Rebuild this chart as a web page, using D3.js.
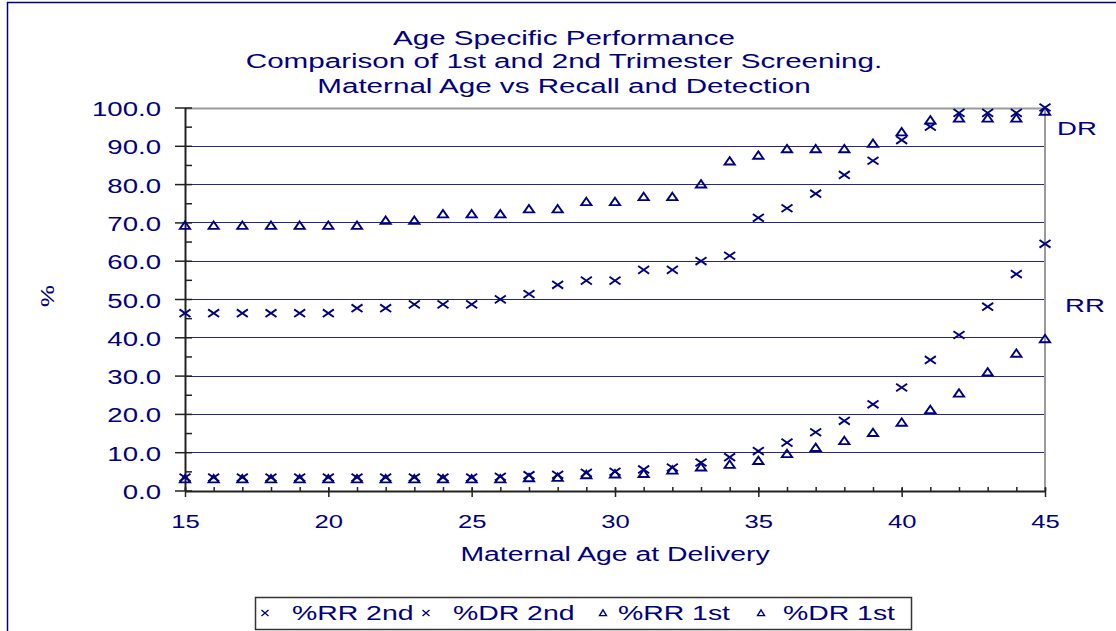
<!DOCTYPE html>
<html><head><meta charset="utf-8">
<script src="https://cdn.jsdelivr.net/npm/d3@7"></script>
<style>
html,body{margin:0;padding:0;background:#fff;}
svg{display:block;font-family:"Liberation Sans",Arial,sans-serif;}
</style></head>
<body>
<svg id="chart" width="1116" height="631"></svg>
<script>
const titleLines = ["Age Specific Performance","Comparison of 1st and 2nd Trimester Screening.","Maternal Age vs Recall and Detection"];
const xTitle = "Maternal Age at Delivery";
const yTitle = "%";
const ages = [15,16,17,18,19,20,21,22,23,24,25,26,27,28,29,30,31,32,33,34,35,36,37,38,39,40,41,42,43,44,45];
const rr2 = [3.4,3.4,3.4,3.4,3.4,3.4,3.4,3.4,3.4,3.4,3.4,3.6,4.0,4.1,4.6,4.9,5.5,6.0,7.3,8.7,10.3,12.5,15.2,18.2,22.5,26.9,34.1,40.6,48.0,56.5,64.4];
const dr2 = [46.3,46.3,46.3,46.3,46.3,46.3,47.6,47.6,48.6,48.6,48.6,49.9,51.3,53.7,54.8,54.8,57.6,57.6,59.9,61.3,71.2,73.7,77.5,82.4,86.1,91.5,95.0,98.6,98.6,98.6,100.0];
const rr1 = [3.0,3.0,3.0,3.0,3.0,3.0,3.0,3.0,3.0,3.0,3.0,3.0,3.3,3.4,4.1,4.3,4.4,5.3,6.1,6.8,7.8,9.6,11.2,13.0,15.1,17.8,21.1,25.4,30.9,35.8,39.6];
const dr1 = [69.2,69.2,69.2,69.2,69.2,69.2,69.2,70.5,70.5,72.2,72.2,72.2,73.5,73.5,75.4,75.4,76.7,76.7,80.0,86.0,87.5,89.2,89.2,89.2,90.6,93.6,96.7,97.2,97.2,97.2,99.0];
const seriesNames = ["%RR 2nd","%DR 2nd","%RR 1st","%DR 1st"];
const seriesMarkers = ["x","x","tri","tri"];
const yTicks = [0,10,20,30,40,50,60,70,80,90,100];
const yMinor = [5,15,25,35,45,55,65,75,85,95];
const xTicks = [15,20,25,30,35,40,45];
const sideLabels = ["DR","RR"];

const NAVY = "#000080";
const SX = 1.42;
const svg = d3.select("#chart");

const m = {left:185, right:1045, top:107.5, bottom:490.5};
const x = d3.scaleLinear().domain([15,45]).range([m.left, m.right]);
const y = d3.scaleLinear().domain([0,100]).range([m.bottom, m.top]);

function stext(sel, tx, ty, str, size, anchor, sx) {
  return sel.append("text")
    .attr("transform", `translate(${tx},${ty}) scale(${sx||SX},1)`)
    .attr("text-anchor", anchor||"middle")
    .attr("font-size", size)
    .attr("fill", NAVY)
    .text(str);
}

// outer frame
svg.append("line").attr("x1",7).attr("x2",1116).attr("y1",2.5).attr("y2",2.5).attr("stroke",NAVY).attr("stroke-width",1.5);
svg.append("line").attr("x1",7.5).attr("x2",7.5).attr("y1",2).attr("y2",631).attr("stroke",NAVY).attr("stroke-width",1.5);

// title
[45, 67.5, 92.5].forEach((ty,i)=> stext(svg, 564, ty, titleLines[i], 20, "middle", 1.48));

// gridlines
svg.append("g").selectAll("line").data(yTicks.filter(d=>d>0 && d<100)).join("line")
  .attr("x1", m.left).attr("x2", m.right)
  .attr("y1", d=>Math.round(y(d))+0.5).attr("y2", d=>Math.round(y(d))+0.5)
  .attr("stroke", NAVY).attr("stroke-width",1.2).attr("opacity",0.85);

// plot top/right border
svg.append("path")
  .attr("d", `M${m.left},${Math.round(y(100))+0.5}H${m.right}V${m.bottom}`)
  .attr("fill","none").attr("stroke","#9a9a9a").attr("stroke-width",2);

// y axis
const yAx = svg.append("g").attr("transform",`translate(${m.left},0)`)
  .call(d3.axisLeft(y).tickValues(yTicks).tickSizeInner(10).tickSizeOuter(0).tickPadding(14).tickFormat(d3.format(".1f")));
yAx.select(".domain").attr("stroke","#222").attr("stroke-width",2);
yAx.selectAll(".tick line").attr("stroke","#222").attr("stroke-width",1.5);
yAx.selectAll(".tick text").each(function(){
  d3.select(this).attr("x",null).attr("dy",null)
    .attr("transform",`translate(-24,8) scale(1.38,1)`)
    .attr("font-size",20).attr("fill",NAVY).attr("font-family","Liberation Sans, Arial, sans-serif");
});
const yIn = svg.append("g").attr("transform",`translate(${m.left},0)`)
  .call(d3.axisRight(y).tickValues(yTicks.concat(yMinor)).tickSize(7).tickFormat(""));
yIn.select(".domain").remove();
yIn.selectAll(".tick line").attr("stroke","#222").attr("stroke-width",1.5);

// x axis
const xAx = svg.append("g").attr("transform",`translate(0,${m.bottom+0.5})`)
  .call(d3.axisBottom(x).tickValues(xTicks).tickSizeInner(6).tickSizeOuter(0).tickFormat(d3.format("d")));
xAx.select(".domain").attr("stroke","#222").attr("stroke-width",2);
xAx.selectAll(".tick line").attr("stroke","#222").attr("stroke-width",1.5).attr("y1",-3);
xAx.selectAll(".tick text").each(function(){
  d3.select(this).attr("y",null).attr("dy",null)
    .attr("transform",`translate(0,37) scale(1.35,1)`)
    .attr("font-size",19).attr("fill",NAVY).attr("font-family","Liberation Sans, Arial, sans-serif");
});
const xIn = svg.append("g").attr("transform",`translate(0,${m.bottom+0.5})`)
  .call(d3.axisTop(x).tickValues(ages).tickSize(4).tickFormat(""));
xIn.select(".domain").remove();
xIn.selectAll(".tick line").attr("stroke","#222").attr("stroke-width",1.5);

// axis titles
stext(svg, 615, 561, xTitle, 20, "middle", 1.42);
svg.append("text").attr("transform","translate(54,296) rotate(-90) scale(1.3,1)")
  .attr("text-anchor","middle").attr("font-size",19).attr("fill",NAVY).text(yTitle);

// side labels
stext(svg, 1077, 135, sideLabels[0], 19, "middle", 1.45);
stext(svg, 1085, 311.5, sideLabels[1], 19, "middle", 1.45);

// markers
const xPath = (w,h)=>`M${-w},${-h}L${w},${h}M${-w},${h}L${w},${-h}`;
const triPath = (w,h1,h2)=>`M0,${-h1}L${w},${h2}L${-w},${h2}Z`;
const seriesData = [rr2, dr2, rr1, dr1];
seriesData.forEach((vals,si)=>{
  const shape = seriesMarkers[si]==="x" ? xPath(5.5,3.8) : triPath(5.1,4,3.4);
  svg.append("g").selectAll("path").data(ages.map((a,i)=>({a, v:vals[i]}))).join("path")
    .attr("transform", d=>`translate(${x(d.a)},${y(d.v)})`)
    .attr("d", shape)
    .attr("fill","none").attr("stroke",NAVY).attr("stroke-width",1.9)
    .attr("stroke-linejoin","miter");
});

// legend
const lg = svg.append("g");
lg.append("rect").attr("x",255.5).attr("y",597.5).attr("width",656).attr("height",32)
  .attr("fill","#fff").attr("stroke","#333").attr("stroke-width",1.5);
const legX = [265, 426, 603, 761];
const legTX = [292, 453, 618, 783];
seriesNames.forEach((n,i)=>{
  const shape = seriesMarkers[i]==="x" ? xPath(3.5,3) : triPath(3.5,3.2,2.6);
  lg.append("path").attr("transform",`translate(${legX[i]},${613})`).attr("d",shape)
    .attr("fill","none").attr("stroke",NAVY).attr("stroke-width",1.4);
  stext(lg, legTX[i], 620, n, 20, "start", 1.42);
});
</script>
</body></html>
